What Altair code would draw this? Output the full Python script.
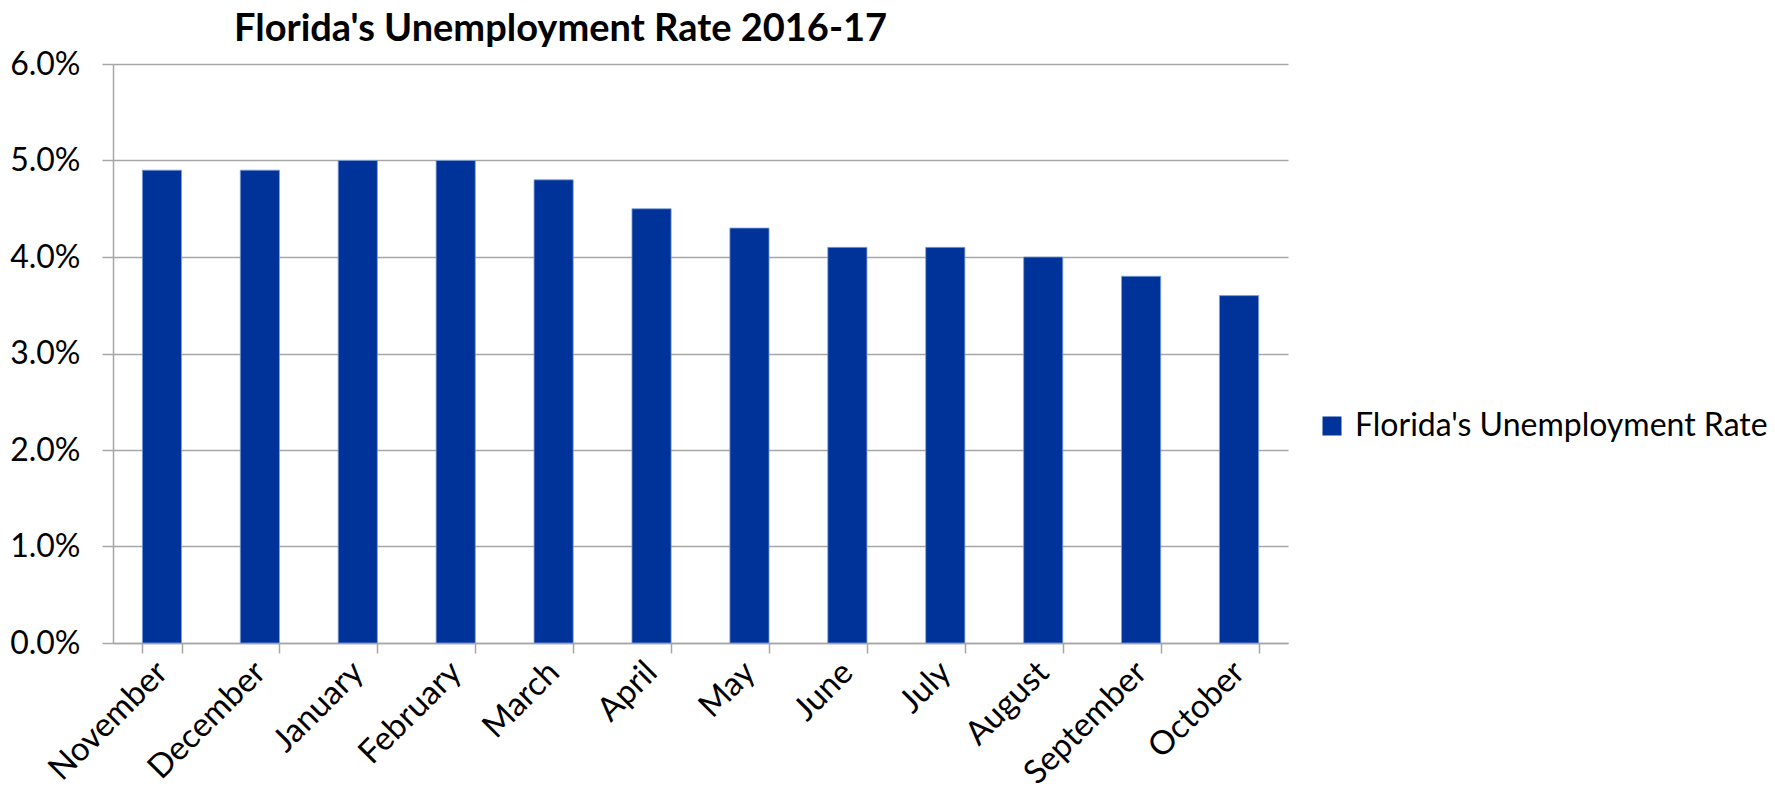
import altair as alt
import pandas as pd

months = ["November", "December", "January", "February", "March", "April",
          "May", "June", "July", "August", "September", "October"]
rates = [0.049, 0.049, 0.050, 0.050, 0.048, 0.045,
         0.043, 0.041, 0.041, 0.040, 0.038, 0.036]
series_name = "Florida's Unemployment Rate"
title_text = "Florida's Unemployment Rate 2016-17"
y_ticks = [0.0, 0.01, 0.02, 0.03, 0.04, 0.05, 0.06]

df = pd.DataFrame({"month": months, "rate": rates, "series": [series_name] * len(months)})

FONT = "Lato"
GRID = "#a6a6a6"

chart = alt.Chart(df).mark_bar(
    stroke="#7f9fd8", strokeWidth=0.8
).encode(
    x=alt.X("month:N", sort=months, title=None,
            scale=alt.Scale(paddingInner=0.6, paddingOuter=0.3),
            axis=alt.Axis(labelAngle=-45, labelFont=FONT, labelFontSize=33,
                          labelColor="#000000", tickBand="extent", tickSize=10,
                          tickColor=GRID, domainColor=GRID, tickWidth=1.5,
                          domainWidth=1.5, labelPadding=14, grid=False,
                          labelAlign="right", labelBaseline="middle")),
    y=alt.Y("rate:Q", title=None,
            scale=alt.Scale(domain=[0, 0.06], nice=False),
            axis=alt.Axis(values=y_ticks, format=".1%", labelFont=FONT,
                          labelFontSize=32, labelColor="#000000",
                          tickSize=11, tickColor=GRID, tickWidth=1.5,
                          domainColor=GRID, domainWidth=1.5,
                          gridColor=GRID, gridWidth=1.5, labelPadding=22)),
    color=alt.Color("series:N", scale=alt.Scale(range=["#003399"]),
                    legend=alt.Legend(title=None, orient="none", legendX=1203,
                                      legendY=346, symbolType="square",
                                      symbolSize=361, symbolStrokeWidth=0,
                                      labelFont=FONT, labelFontSize=32,
                                      labelColor="#000000", labelLimit=600,
                                      labelOffset=7)),
).properties(
    width=1175,
    height=579,
    title=alt.TitleParams(title_text, font=FONT, fontSize=38, fontWeight="bold",
                          color="#000000", anchor="start", frame="group",
                          dx=121, offset=-1),
    autosize=alt.AutoSizeParams(type="none"),
    padding={"left": 105, "top": 56, "right": 479, "bottom": 140},
).configure_view(stroke=None)

chart.save("out.html", embed_options={"renderer": "svg", "actions": False})
